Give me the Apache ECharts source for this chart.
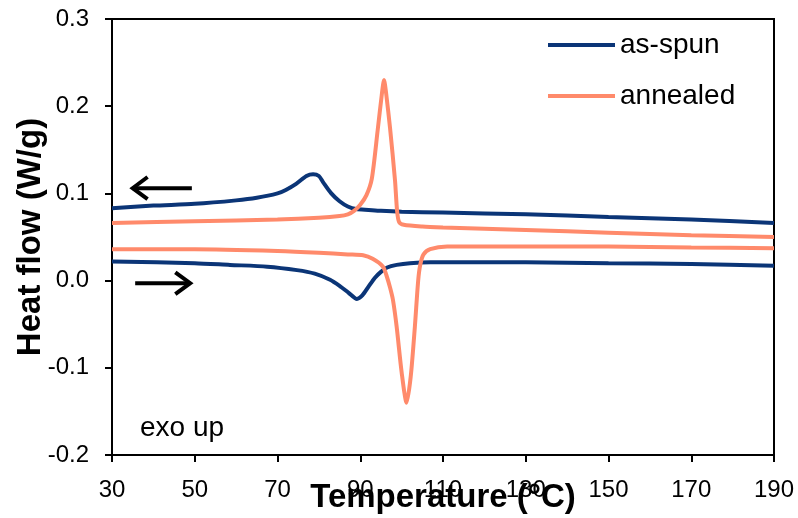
<!DOCTYPE html>
<html>
<head>
<meta charset="utf-8">
<script src="https://cdn.jsdelivr.net/npm/echarts@6/dist/echarts.min.js"></script>
<style>
  html, body { margin: 0; padding: 0; background: #fff; }
  #chart { width: 798px; height: 518px; }
</style>
</head>
<body>
<div id="chart"></div>
<script>
// DSC traces: heat flow (W/g) versus temperature (°C)
const xTicks = [30, 50, 70, 90, 110, 130, 150, 170, 190];
const yTicks = [-0.2, -0.1, 0.0, 0.1, 0.2, 0.3];

// as-spun, cooling run (upper trace)
const asSpunCoolT  = [30, 40, 50, 60, 65, 70, 72, 74.5, 77, 78.6, 80, 81, 83, 85, 87, 89, 92, 95, 100, 110, 130, 150, 170, 190];
const asSpunCoolHF = [0.083, 0.086, 0.088, 0.092, 0.095, 0.100, 0.104, 0.111, 0.120, 0.122, 0.120, 0.113, 0.100, 0.091, 0.085, 0.082, 0.081, 0.080, 0.079, 0.078, 0.076, 0.073, 0.070, 0.066];

// as-spun, heating run (lower trace)
const asSpunHeatT  = [30, 50, 58.5, 67.5, 74.7, 79, 82.7, 85, 87.2, 89.2, 90.5, 92, 93.5, 95, 96.5, 98.8, 102, 107, 130, 150, 170, 190];
const asSpunHeatHF = [0.022, 0.020, 0.018, 0.016, 0.012, 0.008, 0.001, -0.006, -0.014, -0.021, -0.017, -0.007, 0.003, 0.010, 0.015, 0.018, 0.020, 0.021, 0.021, 0.020, 0.019, 0.017];

// annealed, cooling run (upper trace)
const annealedCoolT  = [30, 50, 70, 80, 85, 87, 88.5, 90, 91.5, 92.8, 94.2, 95.2, 95.75, 96.3, 97.2, 98.4, 98.9, 99.4, 100.5, 105, 110, 130, 150, 170, 190];
const annealedCoolHF = [0.066, 0.068, 0.070, 0.072, 0.074, 0.076, 0.080, 0.087, 0.098, 0.117, 0.172, 0.213, 0.230, 0.213, 0.175, 0.115, 0.080, 0.067, 0.064, 0.062, 0.061, 0.058, 0.055, 0.052, 0.050];

// annealed, heating run (lower trace)
const annealedHeatT  = [30, 50, 70, 80, 87, 90.7, 93, 95.5, 96.4, 97.2, 97.9, 98.8, 100, 101.2, 102.2, 103.2, 104, 104.5, 105.3, 106.9, 111, 130, 150, 170, 190];
const annealedHeatHF = [0.036, 0.036, 0.034, 0.032, 0.030, 0.029, 0.025, 0.016, 0.005, -0.008, -0.022, -0.053, -0.105, -0.140, -0.110, -0.053, 0.000, 0.018, 0.030, 0.036, 0.039, 0.039, 0.039, 0.038, 0.037];

const BLUE = '#0b3577';
const ORANGE = '#ff8a6b';
const FONT = '"Liberation Sans", Arial, sans-serif';

const pairs = (xs, ys) => xs.map((x, i) => [x, ys[i]]);

// direction arrows: cooling runs go left, heating runs go right
const coolArrowShaft = [[49.3, 0.106], [35, 0.106]];
const coolArrowHead  = [[38.6, 0.1188], [35, 0.106], [38.6, 0.0934]];
const heatArrowShaft = [[35.6, -0.003], [48.9, -0.003]];
const heatArrowHead  = [[45.3, 0.0095], [48.9, -0.003], [45.3, -0.0155]];

function trace(name, xs, ys, color) {
  return {
    name: name, type: 'line', data: pairs(xs, ys),
    showSymbol: false, symbol: 'none', smooth: 0.25,
    lineStyle: { color: color, width: 4 }, itemStyle: { color: color },
    silent: true, animation: false
  };
}
function arrowPart(data) {
  return {
    type: 'line', data: data, showSymbol: false, symbol: 'none',
    lineStyle: { color: '#000', width: 4, cap: 'butt', join: 'miter' },
    silent: true, animation: false, z: 5
  };
}

const chart = echarts.init(document.getElementById('chart'), null, { renderer: 'canvas' });
chart.setOption({
  animation: false,
  backgroundColor: '#fff',
  grid: {
    left: 112, right: 24, top: 19, bottom: 63,
    containLabel: false, outerBoundsMode: 'none',
    show: true, borderColor: '#000', borderWidth: 2, backgroundColor: 'transparent'
  },
  legend: {
    data: ['as-spun', 'annealed'],
    orient: 'vertical', left: 548, top: 31, padding: 0,
    itemWidth: 67, itemHeight: 4, itemGap: 23,
    icon: 'rect',
    textStyle: { fontFamily: FONT, fontSize: 28, color: '#000' }
  },
  xAxis: {
    type: 'value', min: 30, max: 190, interval: 20,
    name: 'Temperature (°C)', nameLocation: 'middle', nameGap: 26, nameMoveOverlap: false,
    nameTextStyle: { fontFamily: FONT, fontSize: 33, fontWeight: 'bold', color: '#000' },
    axisLine: { onZero: false, lineStyle: { color: '#000', width: 2 } },
    axisTick: { show: true, inside: false, length: 7, lineStyle: { color: '#000', width: 2 } },
    axisLabel: { fontFamily: FONT, fontSize: 24, color: '#000', margin: 23, formatter: v => String(v) },
    splitLine: { show: false }
  },
  yAxis: {
    type: 'value', min: -0.2, max: 0.3, interval: 0.1,
    name: 'Heat flow (W/g)', nameLocation: 'middle', nameGap: 65, nameRotate: 90, nameMoveOverlap: false,
    nameTextStyle: { fontFamily: FONT, fontSize: 33, fontWeight: 'bold', color: '#000' },
    axisLine: { onZero: false, lineStyle: { color: '#000', width: 2 } },
    axisTick: { show: true, inside: false, length: 7, lineStyle: { color: '#000', width: 2 } },
    axisLabel: { fontFamily: FONT, fontSize: 24, color: '#000', margin: 23, formatter: v => v.toFixed(1) },
    splitLine: { show: false }
  },
  graphic: [{
    type: 'text', left: 140, top: 414,
    style: { text: 'exo up', fontFamily: FONT, fontSize: 28, fill: '#000' }
  }],
  series: [
    trace('as-spun', asSpunCoolT, asSpunCoolHF, BLUE),
    trace('as-spun', asSpunHeatT, asSpunHeatHF, BLUE),
    trace('annealed', annealedCoolT, annealedCoolHF, ORANGE),
    trace('annealed', annealedHeatT, annealedHeatHF, ORANGE),
    arrowPart(coolArrowShaft), arrowPart(coolArrowHead),
    arrowPart(heatArrowShaft), arrowPart(heatArrowHead)
  ]
});
</script>
</body>
</html>
